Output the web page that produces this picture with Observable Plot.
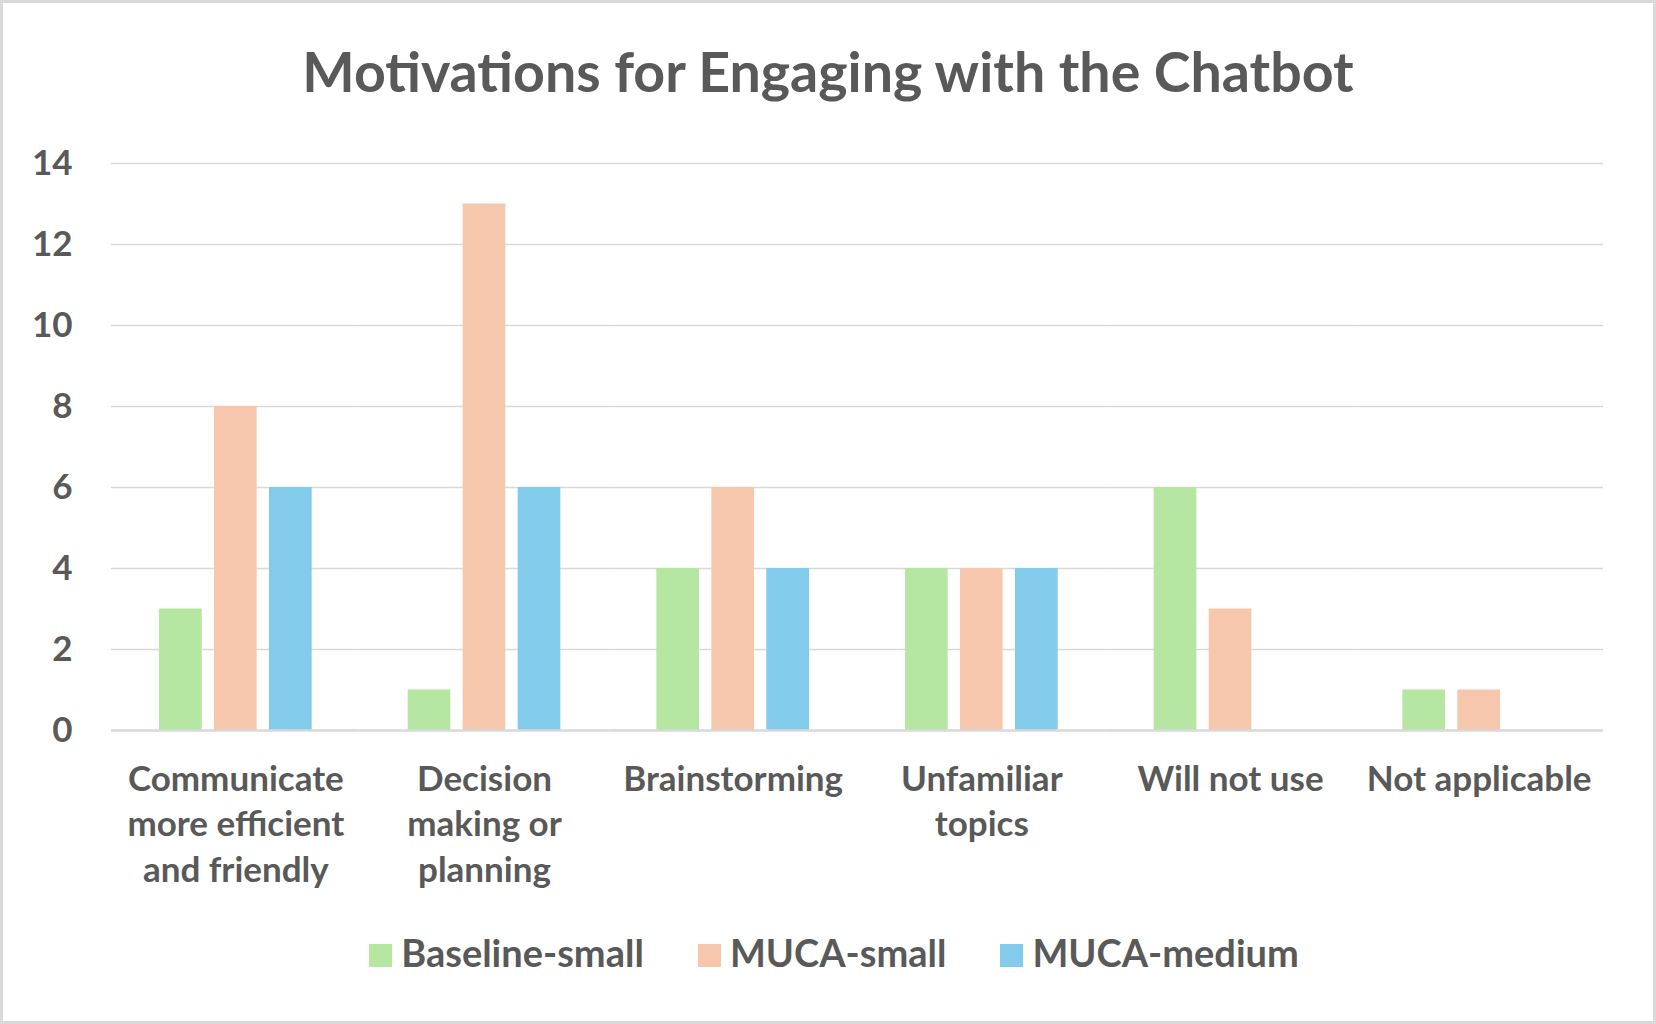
<!DOCTYPE html>
<html><head><meta charset="utf-8">
<script src="https://cdn.jsdelivr.net/npm/d3@7"></script>
<script src="https://cdn.jsdelivr.net/npm/@observablehq/plot@0.6"></script>
<style>
html,body{margin:0;padding:0;background:#fff;}
#chart{position:relative;width:1656px;height:1024px;background:#fff;font-family:Lato,"Open Sans",sans-serif;color:#595959;overflow:hidden;}
#border{position:absolute;left:0;top:0;width:1656px;height:1024px;box-sizing:border-box;border:3px solid #d9d9d9;pointer-events:none;}
#title{position:absolute;left:0;top:43px;width:1656px;text-align:center;font-size:55.5px;line-height:55px;font-weight:700;white-space:nowrap;}
#plot{position:absolute;left:0;top:0;}
#legend{position:absolute;left:6px;top:933px;width:1656px;text-align:center;font-size:38px;line-height:38px;font-weight:700;white-space:nowrap;}
.item{display:inline-block;margin:0 27px;}
.sw{display:inline-block;width:23px;height:23px;margin-right:9px;vertical-align:baseline;}
</style></head>
<body>
<div id="chart">
  <div id="title">Motivations for Engaging with the Chatbot</div>
  <div id="plot"></div>
  <div id="legend"></div>
  <div id="border"></div>
</div>
<script>
const categories = ["Communicate more efficient and friendly","Decision making or planning","Brainstorming","Unfamiliar topics","Will not use","Not applicable"];
const tickLabels = ["Communicate\nmore efficient\nand friendly","Decision\nmaking or\nplanning","Brainstorming","Unfamiliar\ntopics","Will not use","Not applicable"];
const series = ["Baseline-small","MUCA-small","MUCA-medium"];
const colors = ["#b5e6a2","#f6c6ad","#83cbeb"];
const baselineSmall = [3,1,4,4,6,1];
const mucaSmall = [8,13,6,4,3,1];
const mucaMedium = [6,6,4,4,0,0];
const yTicks = [0,2,4,6,8,10,12,14];

const rows = [];
[baselineSmall, mucaSmall, mucaMedium].forEach((vals, si) =>
  vals.forEach((v, ci) => rows.push({category: categories[ci], series: series[si], value: v})));

const chart = Plot.plot({
  width:1656, height:900,
  marginTop:163, marginBottom:170, marginLeft:111, marginRight:53,
  style:{fontFamily:"Lato", color:"#595959", background:"transparent", overflow:"visible"},
  fx:{domain:categories, paddingInner:0, paddingOuter:0, round:false, label:null},
  x:{domain:series, paddingInner:0.224, paddingOuter:0.873, round:false, axis:null},
  y:{domain:[0,14]},
  color:{domain:series, range:colors},
  marks:[
    Plot.gridY(yTicks.filter(d=>d>0), {stroke:"#d9d9d9", strokeOpacity:1, strokeWidth:1.5}),
    Plot.barY(rows, {fx:"category", x:"series", y:"value", fill:"series"}),
    Plot.ruleY([0], {stroke:"#d9d9d9", strokeWidth:2.5}),
    Plot.axisY(yTicks, {anchor:"left", tickSize:0, tickPadding:39, fontSize:35, fontWeight:"bold", fill:"#595959", label:null}),
    Plot.axisFx({anchor:"bottom", tickSize:0, tickPadding:28, fontSize:35, fontWeight:"bold", fill:"#595959", lineHeight:1.3, label:null,
      tickFormat:(d)=>tickLabels[categories.indexOf(d)]})
  ]
});
document.getElementById("plot").appendChild(chart);

const legend = document.getElementById("legend");
series.forEach((s,i)=>{
  const item = document.createElement("span");
  item.className = "item";
  const sw = document.createElement("span");
  sw.className = "sw";
  sw.style.background = colors[i];
  item.appendChild(sw);
  item.appendChild(document.createTextNode(s));
  legend.appendChild(item);
});
</script>
</body></html>
